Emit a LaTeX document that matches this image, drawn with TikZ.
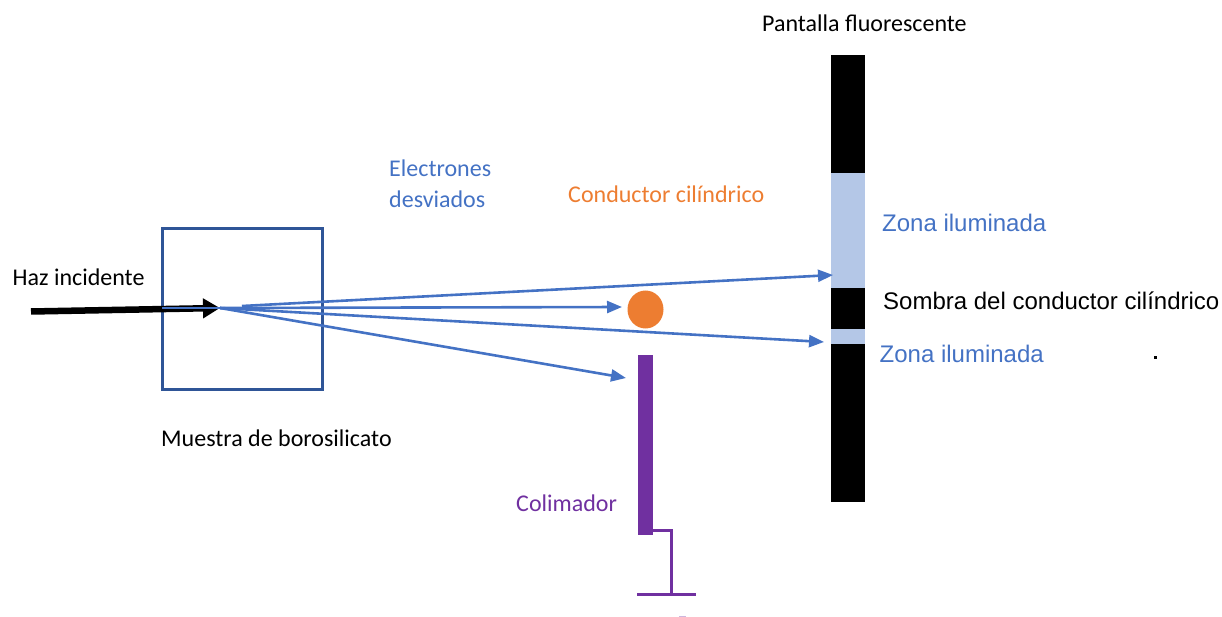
\documentclass[tikz,border=0pt]{standalone}
\usepackage{fontspec}
\setmainfont{Carlito}
\newfontfamily\arialf{Liberation Sans}
\usetikzlibrary{arrows.meta,shapes.geometric}
\definecolor{rayblue}{HTML}{4472C4}
\definecolor{boxblue}{HTML}{2F5597}
\definecolor{litblue}{HTML}{B4C7E7}
\definecolor{cond}{HTML}{ED7D31}
\definecolor{colim}{HTML}{7030A0}
\tikzset{
  x=1pt,y=-1pt,
  lbl/.style={inner sep=0pt,anchor=west,font=\fontsize{24}{26}\selectfont},
  albl/.style={inner sep=0pt,anchor=west,font=\arialf\fontsize{24}{26}\selectfont},
  ray/.style={draw=rayblue,line width=2.6pt,-{Triangle[length=15pt,width=12pt]}},
  gnd/.style={draw=colim,line width=3pt}
}
\begin{document}
\begin{tikzpicture}
\useasboundingbox (0,0) rectangle (1222,617);
% sample
\node[draw=boxblue,line width=2.8pt,fill=white,inner sep=0pt,minimum width=160pt,minimum height=161pt] (sample) at (242.5,309) {};
% screen
\fill[black] (831,55) rectangle (865,502);
\fill[litblue] (831,173) rectangle (865,288);
\fill[litblue] (831,329) rectangle (865,344);
% conductor
\node[fill=cond,ellipse,draw=none,inner sep=0pt,minimum width=36pt,minimum height=38pt] (conductor) at (645.5,309.5) {};
% collimator
\node[fill=colim,inner sep=0pt,minimum width=15pt,minimum height=180pt] (collimator) at (645.5,445) {};
\coordinate (gA) at (653,530);
\coordinate (gB) at (671,530);
\coordinate (gC) at (671,593.5);
\coordinate (g1) at (637,594);
\coordinate (g2) at (696,594);
\draw[gnd,line join=miter] (gA) -- (gB) -- (gC);
\draw[gnd] (g1) -- (g2);
% incident beam
\coordinate (start) at (31,311.5);
\coordinate (focus) at (220,308);
\coordinate (rayorig) at (242,306);
\draw[line width=6.5pt,black,-{Triangle[length=17pt,width=19pt]}] (start) -- (focus);
\draw[draw=rayblue,line width=2.6pt] (162,308) -- (focus);
% rays
\coordinate (t1) at (833,275);
\coordinate (t2) at (622,307);
\coordinate (t3) at (824,342);
\coordinate (t4) at (626,378);
\draw[ray] (rayorig) -- (t1);
\draw[ray] (focus) -- (t2);
\draw[ray] (focus) -- (t3);
\draw[ray] (focus) -- (t4);
% labels
\node[lbl,text=black] (tpant) at (762,23.5) {Pantalla fluorescente};
\node[lbl,text=rayblue,align=left,font=\fontsize{24}{30.5}\selectfont] (telec) at (389,184) {Electrones\\desviados};
\node[lbl,text=cond] (tcond) at (568,194.5) {Conductor cilíndrico};
\node[albl,text=rayblue] (tz1) at (882,223) {Zona iluminada};
\node[albl,text=black] (tsom) at (883,301) {Sombra del conductor cilíndrico};
\node[albl,text=rayblue] (tz2) at (879.5,354) {Zona iluminada};
\node[lbl,text=black] (thaz) at (12.5,277) {Haz incidente};
\node[lbl,text=black] (tmue) at (161,438) {Muestra de borosilicato};
\node[lbl,text=colim] (tcol) at (516,503.5) {Colimador};
% stray marks
\fill[black] (1153.5,355.5) rectangle (1157,359);
\draw[colim!35,line width=1pt] (679,616.6) -- (686,616.6);
\end{tikzpicture}
\end{document}
